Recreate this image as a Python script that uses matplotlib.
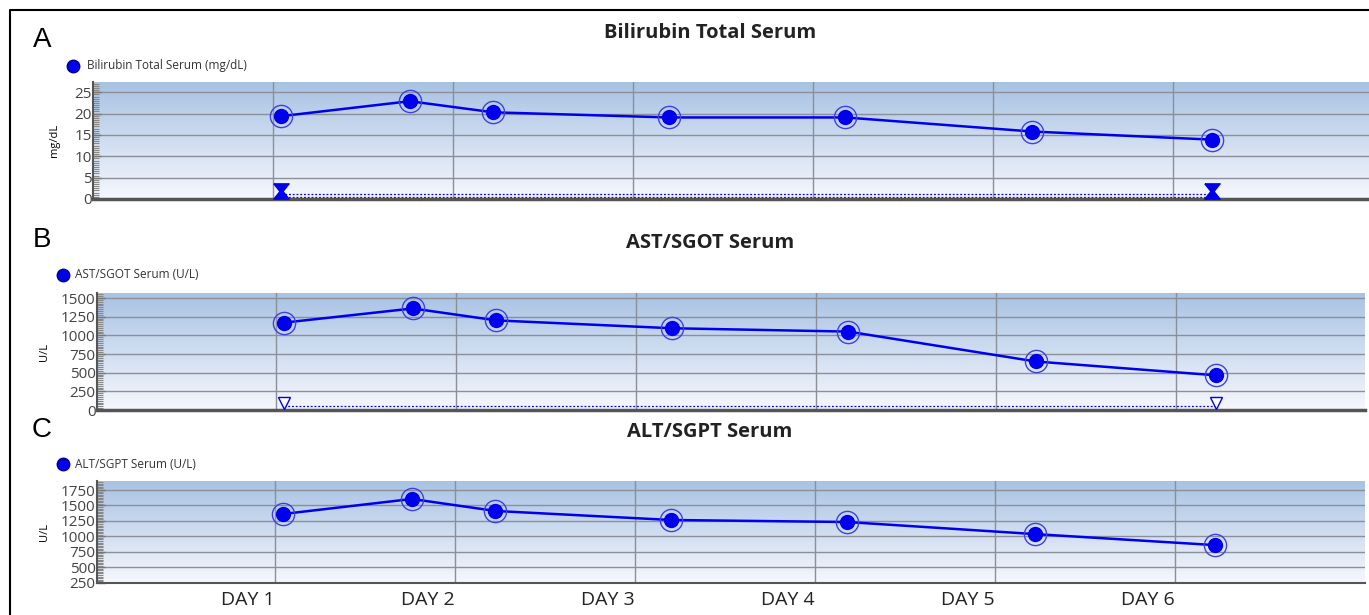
import numpy as np
import matplotlib
matplotlib.use("Agg")
import matplotlib.pyplot as plt
from matplotlib.colors import LinearSegmentedColormap
from matplotlib.lines import Line2D
from matplotlib.path import Path
from matplotlib.ticker import AutoMinorLocator

# Sample times in days (same for all three tests)
days = [1.045, 1.76, 2.225, 3.2, 4.18, 5.22, 6.22]
day_labels = ["DAY 1", "DAY 2", "DAY 3", "DAY 4", "DAY 5", "DAY 6"]

bili = [19.4, 22.9, 20.3, 19.1, 19.1, 15.8, 13.9]
ast = [1170, 1360, 1200, 1095, 1050, 650, 465]
alt = [1362, 1605, 1411, 1265, 1232, 1037, 859]

# reference limits (upper / lower normal)
bili_ref = [1.2, 0.4]
ast_ref = [60]

plt.rcParams['font.family'] = ['Open Sans', 'DejaVu Sans']

W, H = 1369, 615
fig = plt.figure(figsize=(W / 100, H / 100), dpi=100)

BLUE = '#0000ee'
GRID = '#8a8f98'
bg_cmap = LinearSegmentedColormap.from_list('bg', ['#f6f8fd', '#a8c2e3'])


def px_axes(l, t, r, b):
    return fig.add_axes([l / W, 1 - b / H, (r - l) / W, (b - t) / H])


def setup(ax, xlim, ylim, yticks, lw_bottom):
    ax.imshow(np.linspace(0, 1, 256).reshape(-1, 1), extent=[xlim[0], xlim[1], ylim[0], ylim[1]],
              aspect='auto', cmap=bg_cmap, origin='lower', zorder=0)
    ax.set_xlim(xlim)
    ax.set_ylim(ylim)
    ax.set_yticks(yticks)
    ax.yaxis.set_minor_locator(AutoMinorLocator(10))
    ax.set_xticks(range(1, 7))
    for s in ['top', 'right']:
        ax.spines[s].set_visible(False)
    ax.spines['left'].set_color('#555555')
    ax.spines['left'].set_linewidth(1.5)
    ax.spines['bottom'].set_color('#555555')
    ax.spines['bottom'].set_linewidth(lw_bottom)
    ax.grid(True, axis='both', which='major', color=GRID, lw=1, zorder=1)
    ax.tick_params(axis='y', which='major', direction='in', length=6, width=1, color='#777777',
                   labelsize=11, labelcolor='#444444', pad=1)
    ax.tick_params(axis='y', which='minor', direction='in', length=4, width=0.8, color='#888888')
    ax.tick_params(axis='x', length=0, labelbottom=False)


def series(ax, y):
    ax.plot(days, y, color=BLUE, lw=1.8, zorder=3)
    ax.plot(days, y, 'o', ms=16, mfc='none', mec='#4040e0', mew=1, zorder=4)
    ax.plot(days, y, 'o', ms=10, color=BLUE, zorder=5)


# ---- panel A
axA = px_axes(93, 82, 1369, 199)
setup(axA, (0.0, 7.09), (0, 27.4), [0, 5, 10, 15, 20, 25], 2.5)
series(axA, bili)
for r in bili_ref:
    axA.plot([days[0], days[-1]], [r, r], color=BLUE, ls=(0, (1.5, 1.5)), lw=0.9, zorder=2)
hourglass = Path([(-1, 1), (1, 1), (0.2, 0), (1, -1), (-1, -1), (-0.2, 0), (-1, 1)])
axA.plot([days[0], days[-1]], [1.8, 1.8], ls='none', marker=hourglass, ms=11, color=BLUE, zorder=4)
axA.set_ylabel('mg/dL', fontsize=8, labelpad=10)

# ---- panel B
axB = px_axes(97, 293, 1365, 410)
setup(axB, (0.006, 7.05), (0, 1567), [0, 250, 500, 750, 1000, 1250, 1500], 2.5)
series(axB, ast)
for r in ast_ref:
    axB.plot([days[0], days[-1]], [r, r], color=BLUE, ls=(0, (1.5, 1.5)), lw=0.9, zorder=2)
axB.plot([days[0], days[-1]], [95, 95], ls='none', marker='v', ms=8, mfc='white', mec=BLUE, mew=1, zorder=4)
axB.set_ylabel('U/L', fontsize=8, labelpad=8)

# ---- panel C
axC = px_axes(97, 481, 1365, 583)
setup(axC, (0.011, 7.056), (245, 1896), [250, 500, 750, 1000, 1250, 1500, 1750], 1.5)
series(axC, alt)
axC.set_ylabel('U/L', fontsize=8, labelpad=8)
axC.tick_params(axis='x', labelbottom=True, labelsize=14, labelcolor='#222222', pad=6)
axC.set_xticklabels(day_labels, ha='right')

# titles, legends, panel letters
for y, title in [(33, 'Bilirubin Total Serum'), (243, 'AST/SGOT Serum'), (432, 'ALT/SGPT Serum')]:
    fig.text(710 / W, 1 - y / H, title, ha='center', va='center', fontsize=14.5, fontweight='bold',
             color='#222222')
for xc, xt, y, lab in [(73, 87, 66, 'Bilirubin Total Serum (mg/dL)'),
                       (63, 75, 275, 'AST/SGOT Serum (U/L)'),
                       (63, 75, 464, 'ALT/SGPT Serum (U/L)')]:
    fig.add_artist(Line2D([xc / W], [1 - y / H], marker='o', ms=9, color=BLUE, mec='#00008b',
                          transform=fig.transFigure))
    fig.text(xt / W, 1 - y / H, lab, ha='left', va='center', fontsize=8.5, color='#333333')
for y, letter in [(40, 'A'), (240, 'B'), (430, 'C')]:
    fig.text(42 / W, 1 - y / H, letter, ha='center', va='center', fontsize=20, color='black',
             family=['Liberation Sans', 'DejaVu Sans'])

# outer frame (top and left)
fig.add_artist(Line2D([10 / W, 10 / W, 1], [0, 1 - 10 / H, 1 - 10 / H], color='black', lw=1.5,
                      transform=fig.transFigure))

fig.savefig('out.png', dpi=100)
